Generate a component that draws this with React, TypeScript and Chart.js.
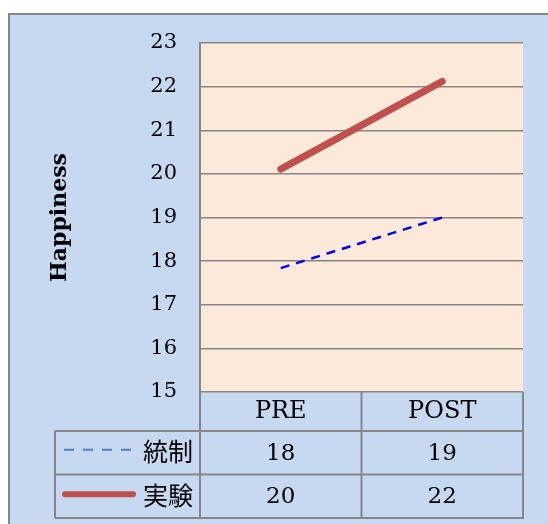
import React, { useEffect, useRef } from 'react';
import { Chart, registerables } from 'chart.js';

Chart.register(...registerables);

const categories = ['PRE', 'POST'];
const seriesNames = ['統制', '実験'];
const controlValues = [17.84, 19.0];
const experimentValues = [20.11, 22.12];
const yMin = 15;
const yMax = 23;
const yStep = 1;
const yTitle = 'Happiness';

const SERIF = '"DejaVu Serif", serif';
const CJK = '"Noto Sans CJK JP", sans-serif';
const GRID = '#868686';

export default function App() {
  const ref = useRef<HTMLCanvasElement>(null);

  useEffect(() => {
    const canvas = ref.current!;
    const tablePlugin = {
      id: 'excelTable',
      beforeDraw(chart: any) {
        const { ctx, chartArea: a, width, height } = chart;
        ctx.save();
        ctx.fillStyle = '#ffffff';
        ctx.fillRect(0, 0, width, height);
        ctx.fillStyle = '#c6d9f1';
        ctx.fillRect(9, 14, width, height);
        ctx.strokeStyle = GRID;
        ctx.lineWidth = 2;
        ctx.beginPath();
        ctx.moveTo(9, height);
        ctx.lineTo(9, 14);
        ctx.lineTo(width, 14);
        ctx.stroke();
        ctx.fillStyle = '#fde9d9';
        ctx.fillRect(a.left, a.top, a.right - a.left, a.bottom - a.top);
        ctx.restore();
      },
      afterDraw(chart: any) {
        const { ctx, chartArea: a } = chart;
        const xs = chart.scales.x;
        const mid = (xs.getPixelForValue(0) + xs.getPixelForValue(1)) / 2;
        const headTop = a.bottom;
        const headBot = a.bottom + 39;
        const rowH = 43.5;
        const legendLeft = 55;
        const tableBot = headBot + rowH * 2;
        ctx.save();
        ctx.strokeStyle = GRID;
        ctx.lineWidth = 2;
        ctx.beginPath();
        for (let i = 0; i <= 2; i++) {
          const y = headBot + i * rowH;
          ctx.moveTo(legendLeft, y);
          ctx.lineTo(a.right + 1, y);
        }
        ctx.moveTo(legendLeft, headBot);
        ctx.lineTo(legendLeft, tableBot);
        [a.left, mid, a.right].forEach((x) => {
          ctx.moveTo(x, headTop);
          ctx.lineTo(x, tableBot);
        });
        ctx.stroke();

        const series = [controlValues, experimentValues];
        for (let i = 0; i < 2; i++) {
          const cy = headBot + i * rowH + rowH / 2;
          ctx.save();
          ctx.beginPath();
          if (i === 0) {
            ctx.strokeStyle = '#4f81bd';
            ctx.lineWidth = 2;
            ctx.setLineDash([10, 9]);
            ctx.lineCap = 'butt';
            ctx.moveTo(64, cy - 3);
            ctx.lineTo(133, cy - 3);
          } else {
            ctx.strokeStyle = '#c0504d';
            ctx.lineWidth = 6;
            ctx.lineCap = 'round';
            ctx.moveTo(65, cy - 2);
            ctx.lineTo(133, cy - 2);
          }
          ctx.stroke();
          ctx.restore();
          ctx.fillStyle = '#000';
          ctx.font = `25px ${CJK}`;
          ctx.textAlign = 'right';
          ctx.textBaseline = 'middle';
          ctx.fillText(seriesNames[i], a.left - 7, cy - 1);
          ctx.font = `23px ${SERIF}`;
          ctx.textAlign = 'center';
          series[i].forEach((v, j) => {
            ctx.fillText(v.toFixed(0), xs.getPixelForValue(j), cy + 1);
          });
        }
        ctx.restore();
      },
    };

    const chart = new Chart(canvas, {
      type: 'line',
      data: {
        labels: categories,
        datasets: [
          {
            label: seriesNames[0],
            data: controlValues,
            borderColor: '#0000ff',
            borderWidth: 2.5,
            borderDash: [9, 7],
            pointRadius: 0,
            fill: false,
          },
          {
            label: seriesNames[1],
            data: experimentValues,
            borderColor: '#c0504d',
            borderWidth: 7,
            borderCapStyle: 'round',
            pointRadius: 0,
            fill: false,
          },
        ],
      },
      options: {
        animation: false,
        responsive: false,
        layout: { padding: { left: 0, top: 43, right: 25, bottom: 0 } },
        plugins: { legend: { display: false }, tooltip: { enabled: false } },
        scales: {
          x: {
            offset: true,
            grid: { display: false, drawTicks: false },
            border: { display: false },
            ticks: { color: '#000', font: { family: SERIF, size: 24 }, padding: 5 },
            afterFit: (s: any) => {
              s.height = 132;
            },
          },
          y: {
            min: yMin,
            max: yMax,
            grid: { color: GRID, lineWidth: 1.5, drawTicks: false },
            border: { display: true, color: GRID, width: 2 },
            ticks: {
              stepSize: yStep,
              color: '#000',
              font: { family: SERIF, size: 21 },
              padding: 23,
            },
            title: {
              display: true,
              text: yTitle,
              color: '#000',
              font: { family: SERIF, size: 22, weight: 'bold' },
              padding: { top: 47, bottom: 0 },
            },
            afterFit: (s: any) => {
              s.width = 200;
            },
          },
        },
      },
      plugins: [tablePlugin],
    } as any);
    return () => chart.destroy();
  }, []);

  return (
    <div style={{ position: 'fixed', left: 0, top: 0, width: 548, height: 524 }}>
      <canvas ref={ref} width={548} height={524} style={{ display: 'block' }} />
    </div>
  );
}
